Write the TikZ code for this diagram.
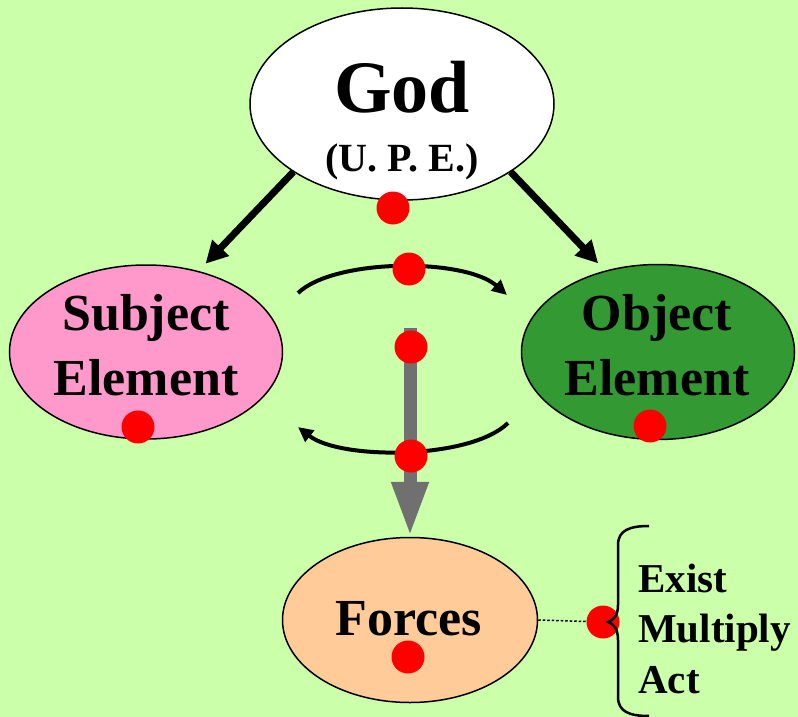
\documentclass[tikz,border=0pt]{standalone}
\usepackage{fontspec}
\setmainfont{Liberation Serif}
\usetikzlibrary{arrows.meta,positioning,shapes.geometric}

\definecolor{bggreen}{RGB}{204,255,170}
\definecolor{subjpink}{RGB}{255,153,204}
\definecolor{objgreen}{RGB}{51,153,51}
\definecolor{forcepeach}{RGB}{255,204,153}
\definecolor{flowgray}{RGB}{112,112,112}

\begin{document}
\begin{tikzpicture}[x=1pt, y=-1pt,
    blob/.style={draw, ellipse, line width=1.5pt, inner sep=0pt},
    word/.style={inner sep=0pt, align=center, font=\bfseries\fontsize{52}{65}\selectfont},
    fat/.style={-{Triangle[length=22pt,width=22pt]}, line width=7pt},
    swing/.style={-{Triangle[length=15pt,width=14pt]}, line width=4pt},
    flow/.style={-{Triangle[length=55pt,width=34pt]}, line width=13pt, color=flowgray},
    spot/.style={circle, fill=red, minimum size=33pt, inner sep=0pt},
  ]
  % Background
  \fill[bggreen] (0,0) rectangle (798,717);
  \useasboundingbox (0,0) rectangle (798,717);

  % Elements
  \node[blob, fill=white, minimum width=304pt, minimum height=192pt] (god) at (402,104) {};
  \node[blob, fill=subjpink, minimum width=273pt, minimum height=174pt] (subject) at (146,352) {};
  \node[blob, fill=objgreen, minimum width=273pt, minimum height=175pt] (object) at (658,352) {};
  \node[blob, fill=forcepeach, minimum width=255pt, minimum height=165pt] (forces) at (410,620) {};

  % Texts
  \node[word, anchor=base, font=\bfseries\fontsize{74}{80}\selectfont] (godword) at (402,112) {God};
  \node[word, anchor=base, font=\bfseries\fontsize{40}{48}\selectfont] (godsub) at (402,171) {(U. P. E.)};
  \node[word] (subjword) at (146,345) {Subject\\Element};
  \node[word] (objword) at (657,345) {Object\\Element};
  \node[word, anchor=base] (forceword) at (409,635) {Forces};
  \node[word, anchor=west, align=left, font=\bfseries\fontsize{41}{50.5}\selectfont] (acts) at (638,628.5) {Exist\\Multiply\\Act};

  % Arrows from God
  \draw[fat, shorten >=10pt] (god.212) -- (subject.57);
  \draw[fat, shorten >=10pt] (god.328) -- (object.123);

  % Swinging arcs
  \coordinate (arcTL) at (298,293);
  \coordinate (arcTR) at (507,295);
  \coordinate (arcBR) at (508,423);
  \coordinate (arcBL) at (298,427);
  \draw[swing] (arcTL) .. controls (335,258) and (465,258) .. (arcTR);
  \draw[swing] (arcBR) .. controls (470,460) and (340,460) .. (arcBL);

  % Flow to Forces
  \coordinate (flowtop) at (410,328);
  \draw[flow] (flowtop) -- (forces.north);

  % Dots
  \node[spot] (dotgod) at (393,208) {};
  \node[spot] (dottop) at (409,269) {};
  \node[spot] (dotmid) at (411,347) {};
  \node[spot] (dotlow) at (411,456) {};
  \node[spot] (dotsubj) at (138,427) {};
  \node[spot] (dotobj) at (650,426) {};
  \node[spot] (dotforce) at (408,657) {};
  \node[spot] (dotbrace) at (603,622) {};

  % Brace
  \draw[line width=1.5pt, dash pattern=on 2.5pt off 2pt] (forces.east) -- (dotbrace);
  \draw[line width=2.5pt] (649,526) .. controls (630,526) and (618,530) .. (618,545)
    -- (618,605) .. controls (618,615) and (614,620) .. (608,622)
    .. controls (614,624) and (618,629) .. (618,640)
    -- (618,697) .. controls (618,712) and (630,716) .. (649,716);
\end{tikzpicture}
\end{document}
